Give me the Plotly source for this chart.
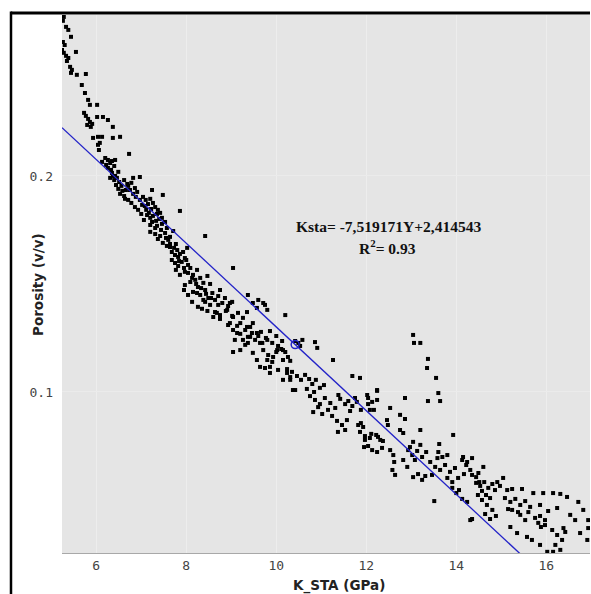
import plotly.graph_objects as go

# ---------------- data (K_STA in GPa, porosity in v/v) ----------------
k_top = [5.28, 5.26, 5.33, 5.38, 5.44, 5.26, 5.30, 5.24, 5.28, 5.33, 5.38, 5.35, 5.55, 5.42, 5.46,
         5.44, 5.57, 5.77, 5.68, 5.75, 5.82, 5.86, 6.02, 5.73, 5.77, 5.82, 5.86, 5.80, 5.88, 5.91,
         6.02, 6.15, 6.26, 6.37, 5.93, 6.04, 6.08, 6.37, 6.53, 6.04, 6.13, 6.06, 6.73]
phi_top = [0.2736, 0.2718, 0.2690, 0.2676, 0.2644, 0.2620, 0.2606, 0.2583, 0.2570, 0.2556, 0.2546,
           0.2532, 0.2574, 0.2505, 0.2491, 0.2477, 0.2468, 0.2472, 0.2421, 0.2384, 0.2352, 0.2329,
           0.2329, 0.2292, 0.2278, 0.2264, 0.2250, 0.2236, 0.2227, 0.2241, 0.2273, 0.2273, 0.2259,
           0.2227, 0.2176, 0.2181, 0.2153, 0.2176, 0.2181, 0.2144, 0.2181, 0.2120, 0.2102]

k_upper = [6.20, 6.26, 6.31, 6.35, 6.22, 6.40, 6.26, 6.33, 6.42, 6.13,
           6.35, 6.42, 6.46, 6.40, 6.51, 6.44, 6.56, 6.49, 6.58, 6.53, 6.62, 6.66, 6.37, 6.31,
           6.82, 6.97, 6.86, 7.24, 7.48, 6.71, 6.78,
           7.04, 7.10, 7.20, 7.15, 7.26, 7.31, 7.22, 7.37, 7.42, 7.08, 6.71, 6.78, 6.86, 6.93, 7.00, 6.88, 6.64,
           7.13, 7.20, 7.26, 7.33, 7.40, 7.46, 7.53, 7.20, 7.31, 7.57, 7.06,
           7.86, 8.42,
           7.20, 7.31, 7.42, 7.53, 7.64, 7.71, 7.37, 7.60,
           7.48, 7.57, 7.64, 7.73, 7.68, 7.80, 7.86, 7.93, 7.82, 7.97, 8.02, 7.77,
           9.04,
           6.49, 6.62, 6.69, 6.75, 6.82, 6.91, 6.97, 7.02, 7.11, 7.17, 7.24, 7.35, 7.44, 7.55, 7.64,
           7.75, 7.84, 7.95, 8.04, 8.13, 8.22, 8.33, 8.44, 8.55, 7.35, 7.46]
phi_upper = [0.2083, 0.2074, 0.2060, 0.2069, 0.2051, 0.2046, 0.2037, 0.2028, 0.2074, 0.2065,
             0.2014, 0.2000, 0.1991, 0.1981, 0.1972, 0.1958, 0.1954, 0.1940, 0.1931, 0.1917, 0.1907, 0.1935, 0.2000, 0.1991,
             0.1991, 0.1995, 0.1944, 0.1935, 0.1912, 0.1954, 0.1968,
             0.1903, 0.1889, 0.1894, 0.1870, 0.1875, 0.1856, 0.1847, 0.1843, 0.1829, 0.1861, 0.1889, 0.1875, 0.1856, 0.1843, 0.1824, 0.1903, 0.1894,
             0.1819, 0.1806, 0.1815, 0.1792, 0.1801, 0.1778, 0.1787, 0.1773, 0.1759, 0.1759, 0.1796,
             0.1838, 0.1722,
             0.1741, 0.1731, 0.1722, 0.1736, 0.1718, 0.1745, 0.1708, 0.1704,
             0.1690, 0.1676, 0.1685, 0.1667, 0.1648, 0.1657, 0.1639, 0.1648, 0.1625, 0.1620, 0.1667, 0.1685,
             0.1574,
             0.2019, 0.1981, 0.1963, 0.1935, 0.1917, 0.1926, 0.1889, 0.1866, 0.1843, 0.1829, 0.1787, 0.1769, 0.1750, 0.1713, 0.1671,
             0.1634, 0.1606, 0.1574, 0.1551, 0.1528, 0.1500, 0.1481, 0.1454, 0.1435, 0.1824, 0.1806]

k_mid = [7.68, 7.75, 7.90, 8.04, 7.82, 8.00,
         7.77, 7.86, 7.97, 8.09, 8.15, 8.24, 8.20, 8.31, 8.38, 8.47, 8.53, 7.97, 8.09, 8.26,
         8.15, 8.31, 8.42, 8.49, 8.58, 8.64, 8.71, 8.80, 8.86, 8.93, 9.02, 8.53, 8.38, 8.75,
         8.64, 8.75, 8.88, 9.02, 9.15, 9.26, 9.35,
         8.93, 9.04, 9.13, 9.20, 9.31, 9.37, 9.46, 9.53, 9.60, 9.69, 9.08, 9.31, 9.42,
         9.48, 9.75, 10.20,
         9.91, 10.04, 10.13,
         9.60, 9.37,
         8.24, 8.42, 8.71, 8.97, 8.68, 8.91, 9.04, 9.20, 8.60, 8.75, 8.97, 9.13, 9.35, 9.48, 9.57,
         9.42, 9.26, 9.37, 9.64, 9.80, 9.48, 9.20, 9.04, 9.57, 9.80, 9.93, 9.86, 9.64, 10.24, 10.31,
         10.37, 10.15, 10.02, 10.15, 9.71, 9.80, 9.57,
         8.26, 8.13, 8.04, 7.95, 8.35, 8.47]
phi_mid = [0.1611, 0.1597, 0.1602, 0.1588, 0.1583, 0.1611,
           0.1565, 0.1542, 0.1556, 0.1574, 0.1542, 0.1565, 0.1519, 0.1528, 0.1505, 0.1537, 0.1500, 0.1495, 0.1509, 0.1486,
           0.1463, 0.1449, 0.1472, 0.1435, 0.1458, 0.1426, 0.1444, 0.1412, 0.1435, 0.1398, 0.1417, 0.1403, 0.1426, 0.1472,
           0.1370, 0.1356, 0.1375, 0.1352, 0.1366, 0.1343, 0.1370,
           0.1310, 0.1287, 0.1306, 0.1269, 0.1287, 0.1255, 0.1273, 0.1241, 0.1259, 0.1227, 0.1241, 0.1218, 0.1301,
           0.1412, 0.1403, 0.1356,
           0.1227, 0.1213, 0.1236,
           0.1426, 0.1449,
           0.1458, 0.1417, 0.1403, 0.1412, 0.1366, 0.1380, 0.1347, 0.1319, 0.1347, 0.1338, 0.1319, 0.1273, 0.1301, 0.1319, 0.1273,
           0.1255, 0.1241, 0.1227, 0.1227, 0.1241, 0.1181, 0.1194, 0.1185, 0.1148, 0.1148, 0.1162, 0.1116, 0.1116, 0.1088, 0.1069,
           0.1009, 0.1056, 0.1194, 0.1194, 0.1412, 0.1380, 0.1389,
           0.1394, 0.1417, 0.1449, 0.1472, 0.1385, 0.1375]

k_low = [9.66, 9.77, 9.71, 9.82, 9.91, 10.00, 9.75, 10.04, 9.86,
         10.11, 10.20, 10.26, 10.15, 10.31,
         10.42, 10.49, 10.58, 10.53,
         10.86, 10.91, 11.26, 11.69, 11.86,
         10.24, 10.35, 10.46, 10.55, 10.31, 10.42,
         10.64, 10.73, 10.80, 10.88, 10.97, 11.06, 10.68, 10.84,
         10.75, 10.86, 10.97, 11.08, 11.20, 11.31, 11.15, 10.93,
         11.42, 11.53, 11.38,
         10.82, 11.02,
         11.60, 11.69, 11.79, 11.88, 11.64, 11.75,
         11.24, 11.35, 11.46, 11.57, 11.53, 11.37,
         12.02, 12.24, 12.04, 12.17,
         11.82, 11.86,
         11.97, 12.08, 12.22, 12.31,
         9.86, 10.00]
phi_low = [0.1278, 0.1250, 0.1194, 0.1171, 0.1139, 0.1185, 0.1111, 0.1102, 0.1088,
           0.1199, 0.1185, 0.1162, 0.1148, 0.1144,
           0.1236, 0.1227, 0.1241, 0.1213,
           0.1231, 0.1204, 0.1148, 0.1074, 0.1065,
           0.1106, 0.1093, 0.1074, 0.1056, 0.1056, 0.1009,
           0.1079, 0.1060, 0.1037, 0.1056, 0.1019, 0.1032, 0.1014, 0.1000,
           0.0981, 0.0963, 0.0944, 0.0972, 0.0949, 0.0926, 0.0917, 0.0930,
           0.0968, 0.0944, 0.0986,
           0.0907, 0.0898,
           0.0958, 0.0935, 0.0954, 0.0917, 0.0912, 0.0972,
           0.0889, 0.0866, 0.0847, 0.0870, 0.0824, 0.0815,
           0.0986, 0.1009, 0.0944, 0.0917,
           0.0847, 0.0815,
           0.0796, 0.0787, 0.0801, 0.0778,
           0.1282, 0.1259]

k_deep = [12.24, 12.04, 12.13, 12.08, 11.88, 11.93, 12.24,
          12.53, 12.86, 12.75, 12.86,
          11.97, 12.04, 12.13, 12.24, 12.35, 12.37, 12.26, 12.11, 11.95,
          12.46, 12.48,
          12.75, 12.82, 13.20, 13.04, 13.20,
          12.93, 13.02, 13.13, 13.24, 13.33, 13.08, 12.97,
          12.60, 12.62, 12.58, 12.64,
          12.91, 13.04, 13.15, 13.24, 13.31,
          13.62, 13.93, 13.60, 13.69, 13.80,
          13.42, 13.53, 13.64, 13.75, 13.86, 13.97, 13.46, 13.80, 13.91, 14.04, 13.58,
          14.13, 14.22, 14.31, 14.17, 14.35,
          14.44, 14.51,
          13.91, 14.00, 14.06,
          13.51, 14.35, 12.53, 12.82]
phi_deep = [0.1005, 0.0972, 0.0954, 0.0917, 0.0856, 0.0838, 0.0963,
            0.0926, 0.0972, 0.0894, 0.0875,
            0.0778, 0.0750, 0.0731, 0.0722, 0.0741, 0.0773, 0.0792, 0.0806, 0.0745,
            0.0870, 0.0847,
            0.0824, 0.0810, 0.0824, 0.0769, 0.0755,
            0.0731, 0.0708, 0.0727, 0.0699, 0.0722, 0.0685, 0.0745,
            0.0708, 0.0676, 0.0639, 0.0616,
            0.0653, 0.0606, 0.0620, 0.0593, 0.0611,
            0.0759, 0.0801, 0.0722, 0.0699, 0.0708,
            0.0676, 0.0653, 0.0639, 0.0662, 0.0630, 0.0648, 0.0616, 0.0602, 0.0583, 0.0602, 0.0694,
            0.0685, 0.0662, 0.0639, 0.0620, 0.0694,
            0.0606, 0.0583,
            0.0556, 0.0532, 0.0546,
            0.0495, 0.0412, 0.0731, 0.0685]

k_streak = [13.04, 13.06, 13.20, 13.37, 13.35, 13.55, 13.60, 13.37, 13.64]
phi_streak = [0.1264, 0.1227, 0.1227, 0.1153, 0.1111, 0.1065, 0.0995, 0.0958, 0.0958]

k_tail = [14.15, 14.24, 14.60, 14.35, 14.49,
          14.44, 14.53, 14.62, 14.71, 14.80, 14.86, 14.66, 14.75, 14.91, 14.57, 14.48,
          15.04,
          14.13, 14.24,
          14.31,
          14.57, 14.68, 14.80, 14.88, 14.64, 14.75,
          15.08, 15.20, 15.31, 15.42, 15.53, 15.15, 15.37,
          15.46, 15.71, 15.93, 16.15, 16.31, 16.46, 16.71, 16.82, 16.93,
          15.24, 15.42, 15.60, 15.75, 15.64,
          15.53, 15.82, 15.97, 15.88,
          15.20, 15.35, 15.57, 15.68, 15.86, 16.02, 16.15, 16.31,
          16.13, 16.24, 16.35, 16.42, 16.20, 16.38,
          15.86, 15.97,
          16.75, 16.91, 16.93,
          15.13, 14.97, 15.24,
          15.86, 16.04, 16.24, 16.53, 16.64]
phi_tail = [0.0699, 0.0676, 0.0653, 0.0616, 0.0625,
            0.0579, 0.0565, 0.0583, 0.0556, 0.0574, 0.0546, 0.0523, 0.0509, 0.0583, 0.0542, 0.0523,
            0.0602,
            0.0505, 0.0491,
            0.0407,
            0.0500, 0.0477, 0.0454, 0.0426, 0.0435, 0.0412,
            0.0509, 0.0491, 0.0505, 0.0477, 0.0495, 0.0458, 0.0444,
            0.0551, 0.0532, 0.0532, 0.0532, 0.0528, 0.0514, 0.0491, 0.0454, 0.0407,
            0.0454, 0.0431, 0.0444, 0.0417, 0.0468,
            0.0407, 0.0394, 0.0407, 0.0375,
            0.0375, 0.0347, 0.0329, 0.0315, 0.0292, 0.0260, 0.0260, 0.0269,
            0.0361, 0.0338, 0.0315, 0.0352, 0.0292, 0.0370,
            0.0426, 0.0384,
            0.0347, 0.0315, 0.0370,
            0.0546, 0.0565, 0.0551,
            0.0477, 0.0449, 0.0463, 0.0431, 0.0407]

# regression line (porosity vs K_STA) and highlighted point on it
fit_intercept = 0.3239
fit_slope = -0.01938
marked_k = [10.42]

x_ticks = [6, 8, 10, 12, 14, 16]
y_ticks = [0.1, 0.2]
y_tick_text = ["0.1", "0.2"]
x_range = [5.24, 16.97]
y_range = [0.02546, 0.2745]

equation_text = "Ksta= -7,519171Y+2,414543"
r2_text = "R<sup>2</sup>= 0.93"

# ---------------- figure ----------------
k_all = k_top + k_upper + k_mid + k_low + k_deep + k_streak + k_tail
phi_all = phi_top + phi_upper + phi_mid + phi_low + phi_deep + phi_streak + phi_tail

fig = go.Figure()
fig.add_trace(go.Scatter(
    x=k_all, y=phi_all, mode="markers",
    marker=dict(symbol="square", size=4, color="#000000", line=dict(width=0)),
    hoverinfo="x+y"))

line_x = [x_range[0], x_range[1]]
line_y = [fit_intercept + fit_slope * v for v in line_x]
fig.add_trace(go.Scatter(x=line_x, y=line_y, mode="lines",
                         line=dict(color="#2323c8", width=1.3), hoverinfo="skip"))
fig.add_trace(go.Scatter(x=marked_k, y=[fit_intercept + fit_slope * v for v in marked_k],
                         mode="markers",
                         marker=dict(symbol="circle-open", size=8, color="#2323c8",
                                     line=dict(width=1.5, color="#2323c8")),
                         hoverinfo="skip"))

fig.update_layout(
    width=591, height=594,
    margin=dict(l=62, r=1, t=15, b=41),
    paper_bgcolor="white", plot_bgcolor="#e5e5e5",
    showlegend=False,
    xaxis=dict(range=x_range, tickvals=x_ticks, showgrid=True, gridcolor="#ededed", gridwidth=1,
               zeroline=False, showline=True, linecolor="#a8a8a8", linewidth=1,
               ticks="", tickfont=dict(family="DejaVu Sans Mono", size=13, color="#444444")),
    yaxis=dict(range=y_range, tickvals=y_ticks, ticktext=y_tick_text, showgrid=True,
               gridcolor="#ebebeb", gridwidth=1, zeroline=False, showline=False,
               ticks="", ticklabelstandoff=8,
               tickfont=dict(family="DejaVu Sans Mono", size=13, color="#444444")),
    annotations=[
        dict(text="<b>K_STA (GPa)</b>", xref="paper", yref="paper", x=0.525, y=-0.0595,
             showarrow=False, xanchor="center", yanchor="middle",
             font=dict(family="DejaVu Sans", size=13.5, color="#222222")),
        dict(text="<b>Porosity (v/v)</b>", xref="paper", yref="paper", x=-0.0455, y=0.5,
             showarrow=False, textangle=-90, xanchor="center", yanchor="middle",
             font=dict(family="DejaVu Sans", size=13.5, color="#222222")),
        dict(text="<b>" + equation_text + "</b>", xref="paper", yref="paper", x=0.619, y=0.606,
             showarrow=False, xanchor="center", yanchor="middle",
             font=dict(family="Liberation Serif", size=15.5, color="#111111")),
        dict(text="<b>" + r2_text + "</b>", xref="paper", yref="paper", x=0.617, y=0.569,
             showarrow=False, xanchor="center", yanchor="middle",
             font=dict(family="Liberation Serif", size=15.5, color="#111111")),
    ],
    shapes=[
        dict(type="line", xref="paper", yref="paper", x0=-0.0966, x1=1.0, y0=1.0037, y1=1.0037,
             line=dict(color="black", width=3)),
        dict(type="line", xref="paper", yref="paper", x0=-0.0966, x1=-0.0966, y0=1.0065, y1=-0.1,
             line=dict(color="black", width=2.5)),
    ],
)

fig.write_html("out.html")
